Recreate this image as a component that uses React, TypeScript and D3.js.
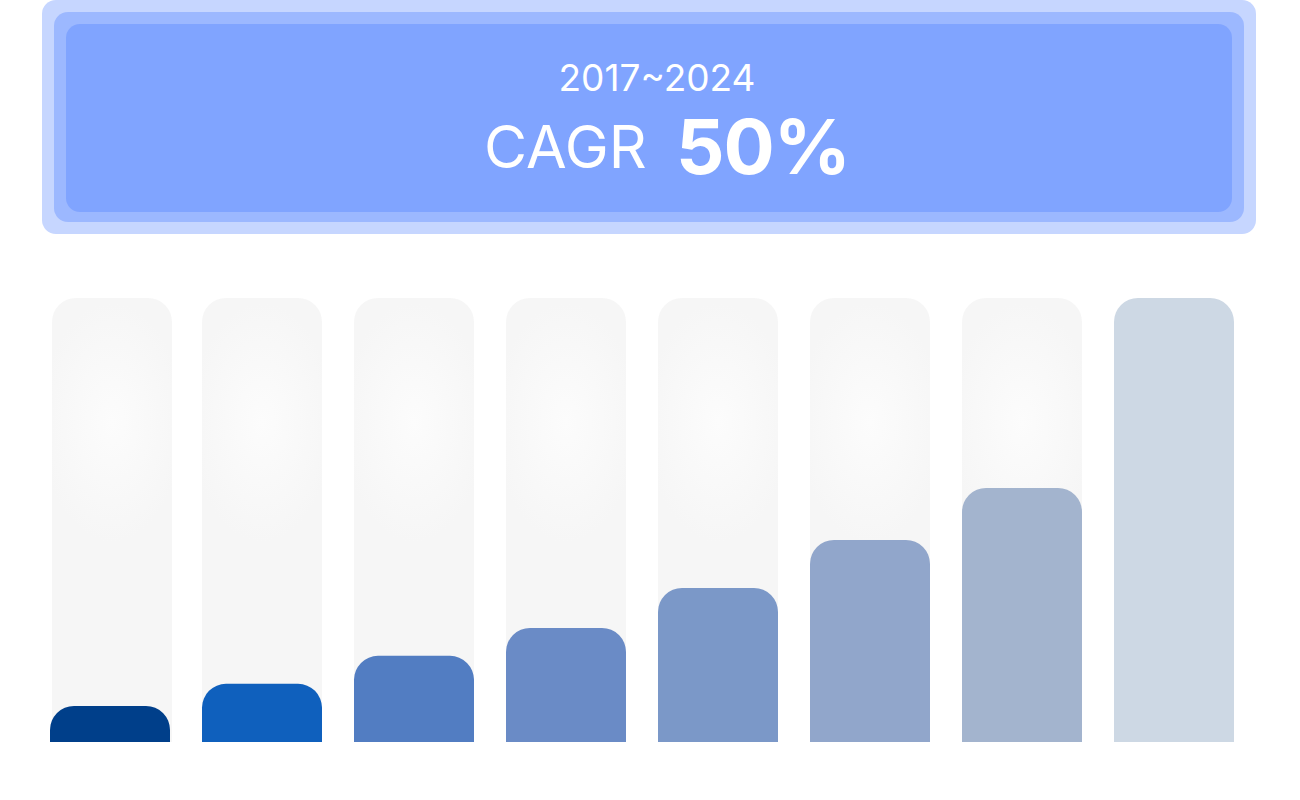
import React from "react";
import * as d3 from "d3";

const years = ["2017", "2018", "2019", "2020", "2021", "2022", "2023", "2024"];
const values = [8.1, 13.1, 19.4, 25.7, 34.7, 45.5, 57.2, 100];
const barColors = ["#003f8a", "#0f60bd", "#527dc2", "#6a8bc6", "#7b98c8", "#91a6cb", "#a3b4ce", "#cdd8e4"];
const periodLabel = "2017~2024";
const cagrLabel = "CAGR";
const cagrValue = "50%";

const W = 1300;
const H = 800;
const R = 24;

function topRoundedRect(x: number, y: number, w: number, h: number, r: number) {
  const rr = Math.min(r, h, w / 2);
  const p = d3.path();
  p.moveTo(x, y + h);
  p.lineTo(x, y + rr);
  p.arcTo(x, y, x + rr, y, rr);
  p.lineTo(x + w - rr, y);
  p.arcTo(x + w, y, x + w, y + rr, rr);
  p.lineTo(x + w, y + h);
  p.closePath();
  return p.toString();
}

export default function App() {
  const x = d3
    .scaleBand<string>()
    .domain(years)
    .range([50, 1234])
    .paddingInner(32 / 152)
    .paddingOuter(0);
  const y = d3.scaleLinear().domain([0, 100]).range([742, 298]);
  const bw = x.bandwidth();

  return (
    <svg
      width={W}
      height={H}
      style={{ position: "absolute", left: 0, top: 0 }}
      fontFamily="Inter, 'Noto Sans', sans-serif"
    >
      <defs>
        <radialGradient id="bgGrad" cx="0.5" cy="0.28" r="0.6" fx="0.5" fy="0.28"
          gradientTransform="translate(0.5,0.28) scale(1,0.45) translate(-0.5,-0.28)">
          <stop offset="0" stopColor="#fcfcfc" />
          <stop offset="1" stopColor="#f6f6f6" />
        </radialGradient>
      </defs>
      <rect x={42} y={0} width={1214} height={234} rx={14} fill="#c6d6ff" />
      <rect x={54} y={12} width={1190} height={210} rx={14} fill="#9cb8ff" />
      <rect x={66} y={24} width={1166} height={188} rx={14} fill="#80a4ff" />
      <text x={657} y={91} textAnchor="middle" fill="#fff" fontSize={37} fontWeight={400}>
        {periodLabel}
      </text>
      <text x={484} y={168} fill="#fff" fontSize={59} fontWeight={400}>
        {cagrLabel}
      </text>
      <text x={676} y={174} fill="#fff" fontSize={76} fontWeight={700} letterSpacing={-1}>
        {cagrValue}
      </text>
      {years.map((yr, i) => {
        const bx = x(yr)!;
        return (
          <g key={yr}>
            {i < years.length - 1 && (
              <path d={topRoundedRect(i === 0 ? bx + 2 : bx, y(100), bw, y(0) - y(100), R)} fill="url(#bgGrad)" />
            )}
            <path d={topRoundedRect(bx, y(values[i]), bw, y(0) - y(values[i]), R)} fill={barColors[i]} />
          </g>
        );
      })}
    </svg>
  );
}
